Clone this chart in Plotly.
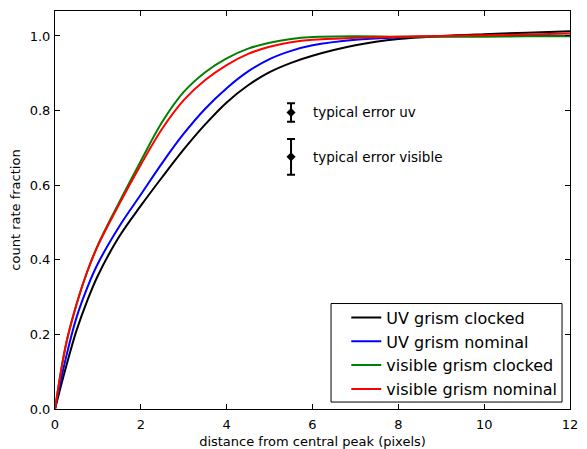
import plotly.graph_objects as go

x = [0, 0.25, 0.5, 0.75, 1.0, 1.5, 2.0, 2.5, 3.0, 3.5, 4.0, 4.5, 5.0, 5.5, 6.0, 7.0, 8.0, 9.0, 10.0, 11.0, 12.0]

uv_clocked = [0, 0.11, 0.21, 0.29, 0.358, 0.463, 0.545, 0.622, 0.696, 0.763, 0.822, 0.868, 0.903, 0.928, 0.947, 0.975, 0.992, 1.0, 1.005, 1.009, 1.013]
uv_nominal = [0, 0.135, 0.245, 0.325, 0.39, 0.49, 0.575, 0.66, 0.738, 0.805, 0.86, 0.905, 0.938, 0.96, 0.975, 0.99, 0.996, 0.999, 1.0, 1.0, 1.0]
vis_clocked = [0, 0.17, 0.28, 0.368, 0.44, 0.555, 0.665, 0.77, 0.85, 0.903, 0.94, 0.966, 0.982, 0.992, 0.997, 0.999, 0.998, 0.998, 0.998, 0.999, 0.999]
vis_nominal = [0, 0.17, 0.28, 0.368, 0.438, 0.55, 0.655, 0.752, 0.828, 0.882, 0.922, 0.952, 0.971, 0.983, 0.99, 0.995, 0.998, 1.0, 1.002, 1.004, 1.007]

series_names = ["UV grism clocked", "UV grism nominal", "visible grism clocked", "visible grism nominal"]
series_vals = [uv_clocked, uv_nominal, vis_clocked, vis_nominal]
series_colors = ["#000000", "#0000ff", "#008000", "#ff0000"]

err_x = [5.5, 5.5]
err_y = [0.795, 0.676]
err_size = [0.025, 0.048]
err_labels = ["typical error uv", "typical error visible"]
label_x = 6.0

x_ticks = [0, 2, 4, 6, 8, 10, 12]
y_ticks = [0.0, 0.2, 0.4, 0.6, 0.8, 1.0]

FONT = "DejaVu Sans"

fig = go.Figure()
for name, vals, col in zip(series_names, series_vals, series_colors):
    fig.add_trace(go.Scatter(x=x, y=vals, mode="lines", name=name,
                             line=dict(color=col, width=2, shape="spline", smoothing=1.0)))

fig.add_trace(go.Scatter(x=err_x, y=err_y, mode="markers", showlegend=False,
                         marker=dict(symbol="diamond", size=7, color="black"),
                         error_y=dict(type="data", array=err_size, visible=True,
                                      color="black", thickness=2, width=4)))

for yy, lab in zip(err_y, err_labels):
    fig.add_annotation(x=label_x, y=yy, text=lab, showarrow=False, xanchor="left",
                       yanchor="middle", xshift=-2,
                       font=dict(family=FONT, size=13.5, color="black"))

# legend frame (matplotlib-style box)
fig.add_shape(type="rect", xref="paper", yref="paper",
              x0=0.536, x1=0.9845, y0=0.0175, y1=0.265,
              line=dict(color="black", width=1), fillcolor="white", layer="above")

axis_common = dict(showline=True, linecolor="black", linewidth=1, mirror="ticks",
                   ticks="inside", ticklen=5, tickwidth=1, tickcolor="black",
                   showgrid=False, zeroline=False,
                   tickfont=dict(family=FONT, size=13, color="black"))

fig.update_xaxes(range=[0, 12], tickvals=x_ticks, ticktext=[str(v) for v in x_ticks],
                 ticklabelstandoff=3,
                 title=dict(text="distance from central peak (pixels)", standoff=6,
                            font=dict(family=FONT, size=13, color="black")),
                 **axis_common)
fig.update_yaxes(range=[0, 1.067], tickvals=y_ticks, ticktext=["%.1f" % v for v in y_ticks],
                 ticklabelstandoff=1,
                 title=dict(text="count rate fraction", standoff=6,
                            font=dict(family=FONT, size=13, color="black")),
                 **axis_common)

# The page body has an 8px margin, so the figure is sized to fill the rest of the window.
fig.update_layout(
    width=579, height=441,
    margin=dict(l=47, r=17, t=2, b=39),
    paper_bgcolor="white", plot_bgcolor="white",
    font=dict(family=FONT, size=13, color="black"),
    legend=dict(x=0.985, y=0.006, xanchor="right", yanchor="bottom",
                bgcolor="rgba(0,0,0,0)", borderwidth=0,
                font=dict(family=FONT, size=16, color="black"),
                tracegroupgap=0),
)

fig.write_html("out.html")
